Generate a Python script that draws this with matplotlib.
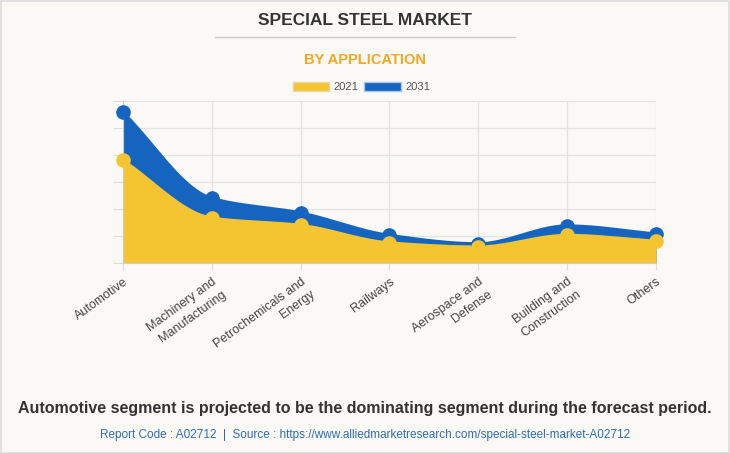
import numpy as np
import matplotlib
matplotlib.use('Agg')
import matplotlib.pyplot as plt
from matplotlib.patches import Rectangle
from matplotlib.lines import Line2D

plt.rcParams['font.family'] = ['Liberation Sans', 'DejaVu Sans']

categories = ['Automotive', 'Machinery and\nManufacturing', 'Petrochemicals and\nEnergy',
              'Railways', 'Aerospace and\nDefense', 'Building and\nConstruction', 'Others']
years = ['2021', '2031']
values_2021 = [38.0, 16.7, 14.0, 7.5, 6.0, 10.3, 8.1]
values_2031 = [55.8, 24.0, 18.6, 10.3, 7.2, 13.8, 10.8]

yellow = '#f5c531'
blue = '#1565c0'
bg = '#faf9f5'


def monotone(x, y, n=40):
    # Fritsch-Carlson monotone cubic, used only to draw the smooth line
    x = np.asarray(x, float)
    y = np.asarray(y, float)
    h = np.diff(x)
    d = np.diff(y) / h
    m = np.zeros_like(y)
    m[0] = d[0]
    m[-1] = d[-1]
    for i in range(1, len(y) - 1):
        if d[i - 1] * d[i] <= 0:
            m[i] = 0
        else:
            m[i] = 2 / (1 / d[i - 1] + 1 / d[i])
    xs, ys = [], []
    for i in range(len(h)):
        t = np.linspace(0, 1, n)
        h00 = 2 * t**3 - 3 * t**2 + 1
        h10 = t**3 - 2 * t**2 + t
        h01 = -2 * t**3 + 3 * t**2
        h11 = t**3 - t**2
        xs.append(x[i] + t * h[i])
        ys.append(h00 * y[i] + h10 * h[i] * m[i] + h01 * y[i + 1] + h11 * h[i] * m[i + 1])
    return np.concatenate(xs), np.concatenate(ys)


fig = plt.figure(figsize=(7.3, 4.53), dpi=100)
fig.patch.set_facecolor(bg)
fig.patches.append(Rectangle((0.001, 0.001), 0.998, 0.997, transform=fig.transFigure,
                             fill=False, edgecolor='#dddddd', linewidth=1.2))

ax = fig.add_axes([0.1685, 0.4194, 0.7301, 0.3576])
ax.set_facecolor(bg)
x = np.arange(len(categories))

for vals, col in [(values_2031, blue), (values_2021, yellow)]:
    sx, sy = monotone(x, vals)
    ax.fill_between(sx, 0, sy, color=col, linewidth=0, zorder=2)
    ax.plot(sx, sy, color=col, linewidth=2, zorder=3)
    ax.plot(x, vals, 'o', color=col, markersize=9.5, zorder=4, clip_on=False)

ax.set_xlim(0, 6)
ax.set_ylim(0, 60)
ax.set_yticks(np.arange(0, 61, 10))
ax.set_yticklabels([])
ax.set_xticks(x)
ax.set_xticklabels(categories, rotation=36, ha='right', rotation_mode='anchor',
                   multialignment='right', linespacing=1.45, fontsize=9, color='#444444')
ax.tick_params(axis='y', length=7, color='#dddddd')
ax.tick_params(axis='x', length=5, color='#dddddd', pad=4)
ax.grid(True, color='#e2e2e2', linewidth=0.9, zorder=0)
for s in ['top', 'right']:
    ax.spines[s].set_visible(False)
ax.spines['left'].set_color('#cccccc')
ax.spines['bottom'].set_color('#cccccc')

fig.text(0.5, 0.955, 'SPECIAL STEEL MARKET', ha='center', va='center',
         fontsize=12.5, fontweight='bold', color='#333333')
fig.lines.append(Line2D([0.295, 0.705], [0.918, 0.918], transform=fig.transFigure,
                        color='#cccccc', linewidth=1))
fig.text(0.5, 0.867, 'BY APPLICATION', ha='center', va='center',
         fontsize=10.5, fontweight='bold', color='#f5a623')

handles = [Rectangle((0, 0), 1, 1, facecolor=yellow, edgecolor='#e6d9a6'),
           Rectangle((0, 0), 1, 1, facecolor=blue, edgecolor='#a9c3e6')]
fig.legend(handles, years, loc='center', bbox_to_anchor=(0.495, 0.808), ncol=2,
           frameon=False, fontsize=8, labelcolor='#555555', handlelength=3.3,
           handleheight=0.9, handletextpad=0.4, columnspacing=0.5)

fig.text(0.5, 0.099, 'Automotive segment is projected to be the dominating segment during the forecast period.',
         ha='center', va='center', fontsize=11.5, fontweight='bold', color='#333333')
fig.text(0.5, 0.04, 'Report Code : A02712  |  Source : https://www.alliedmarketresearch.com/special-steel-market-A02712',
         ha='center', va='center', fontsize=8.5, color='#2e6db4')

fig.savefig('out.png', dpi=100, facecolor=bg)
